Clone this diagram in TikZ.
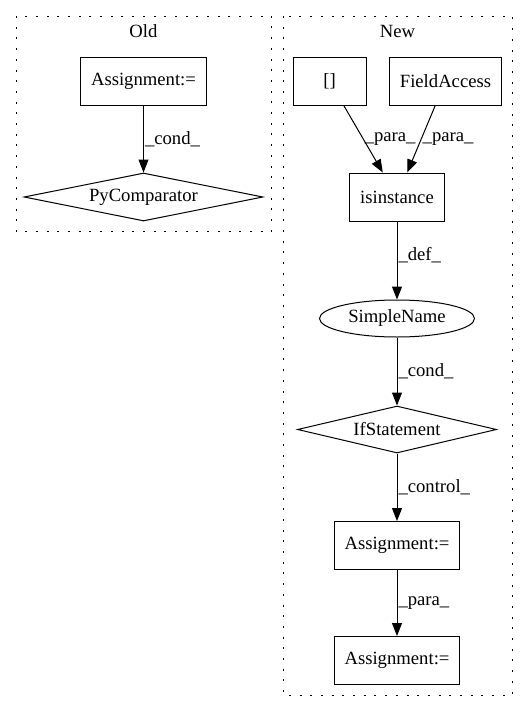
\documentclass[tikz,border=0pt]{standalone}
\usepackage{fontspec}
\setmainfont{Liberation Serif}
\usetikzlibrary{shapes.geometric,arrows.meta}
\tikzset{
  box/.style={draw, rectangle, inner xsep=10.5pt, inner ysep=0pt, minimum width=73pt, minimum height=48pt},
  cond/.style={draw, diamond, aspect=5, inner sep=0pt},
  var/.style={draw, ellipse, inner sep=0pt, minimum width=155pt, minimum height=37pt},
  cluster/.style={draw, line width=1pt, dash pattern=on 2pt off 8.7pt},
  lbl/.style={midway, right, inner sep=1pt},
}
\begin{document}
\begin{tikzpicture}[x=1pt, y=-1pt, font=\fontsize{18.67}{21}\selectfont, line width=1pt,
    >={Triangle[length=13pt,width=10pt]}]
  \useasboundingbox (0,0) rectangle (528,712);
  \draw[cluster] (16,16) rectangle (271.5,231.5);
  \draw[cluster] (283,16) rectangle (512,695);
  \draw
    (143.5,31) node (old){Old}
    (397.5,31) node (new){New}
    (143.5,81) node[box] (0){Assignment:=}
    (143.5,197) node[cond, minimum width=239pt, minimum height=48pt] (1){PyComparator}
    (329.5,81) node[box] (2){[]}
    (445.5,81) node[box] (3){FieldAccess}
    (397,197) node[box] (4){isinstance}
    (397,318.5) node[var] (5){SimpleName}
    (397,429.5) node[cond, minimum width=199pt, minimum height=47pt] (6){IfStatement}
    (397,545.5) node[box] (7){Assignment:=}
    (397,660.5) node[box] (8){Assignment:=};
  \begin{scope}[->]
    \draw (0) to node[lbl]{\_cond\_} (1);
    \draw (2) to node[lbl]{\_para\_} (4);
    \draw (3) to node[lbl]{\_para\_} (4);
    \draw (4) to node[lbl, pos=0.43]{\_def\_} (5);
    \draw (5) to node[lbl]{\_cond\_} (6);
    \draw (6) to node[lbl]{\_control\_} (7);
    \draw (7) to node[lbl]{\_para\_} (8);
  \end{scope}
\end{tikzpicture}
\end{document}
